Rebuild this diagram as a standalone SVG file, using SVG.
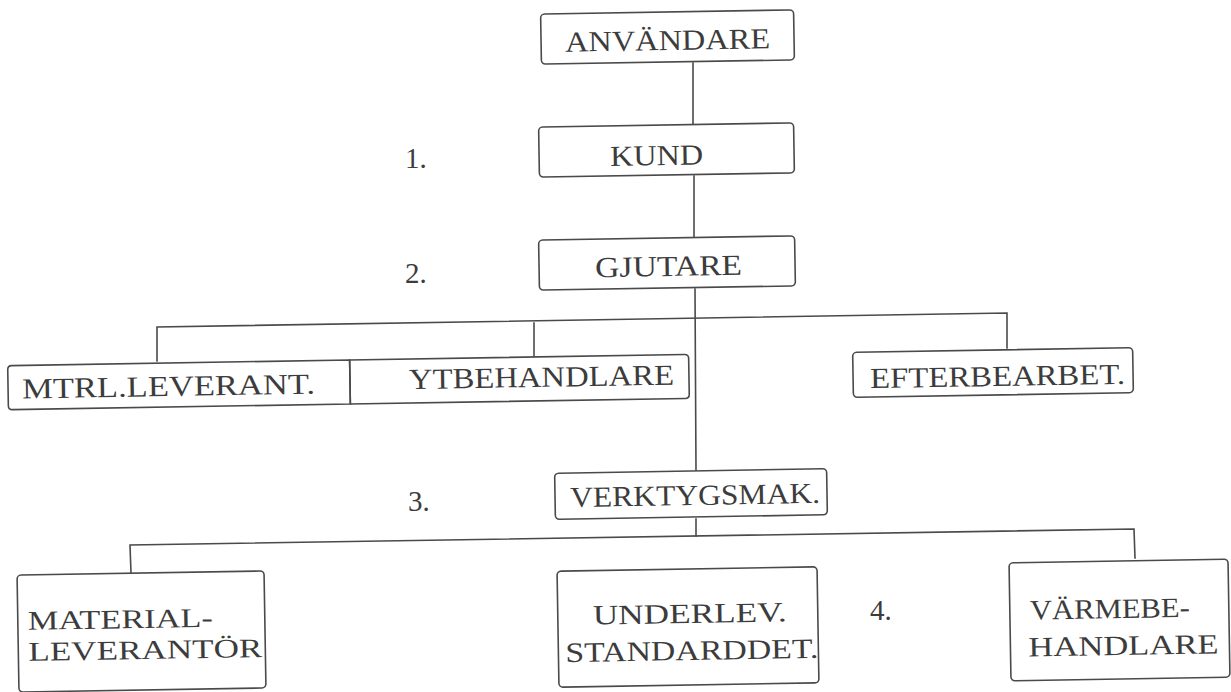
<svg xmlns="http://www.w3.org/2000/svg" width="1231" height="692" viewBox="0 0 1231 692">
  <style>
    .box { fill: none; stroke: #4a4a4a; stroke-width: 1.6; }
    .wire { fill: none; stroke: #4a4a4a; stroke-width: 1.6; stroke-linecap: square; }
    .lbl { font-family: "Liberation Serif", "DejaVu Serif", serif; font-size: 29px; fill: #3c3c3c; }
    .lbl2 { font-family: "Liberation Serif", "DejaVu Serif", serif; font-size: 28px; fill: #3c3c3c; }
    .lbl3 { font-family: "Liberation Serif", "DejaVu Serif", serif; font-size: 27px; fill: #3c3c3c; }
    .num { font-family: "Liberation Serif", "DejaVu Serif", serif; font-size: 29px; fill: #3c3c3c; }
  </style>
  <rect width="1231" height="692" fill="#ffffff"/>

  <!-- connectors -->
  <g id="connectors">
    <line class="wire" x1="693" y1="63" x2="693" y2="124"/>
    <line class="wire" x1="694" y1="176" x2="694" y2="237"/>
    <line class="wire" x1="695" y1="289" x2="696" y2="470"/>
    <polyline class="wire" points="157,361 157,327 1007,313 1007,348"/>
    <line class="wire" x1="534" y1="323" x2="534" y2="356"/>
    <line class="wire" x1="696" y1="519" x2="696" y2="536"/>
    <polyline class="wire" points="131,573 130,545 1134,529 1135,558"/>
  </g>

  <!-- level numbers -->
  <g id="levels">
    <text class="num" x="405" y="168">1.</text>
    <text class="num" x="405" y="283">2.</text>
    <text class="num" x="408" y="511">3.</text>
    <text class="num" x="870" y="620">4.</text>
  </g>

  <g id="anvandare" transform="rotate(-0.95 667 37)">
    <rect class="box" x="541" y="12" width="253" height="50" rx="4"/>
    <text class="lbl" x="565" y="50" textLength="205" lengthAdjust="spacingAndGlyphs">ANVÄNDARE</text>
  </g>

  <g id="kund" transform="rotate(-0.95 666 150)">
    <rect class="box" x="539" y="125" width="255" height="50" rx="4"/>
    <text class="lbl" x="610" y="165" textLength="93" lengthAdjust="spacingAndGlyphs">KUND</text>
  </g>

  <g id="gjutare" transform="rotate(-0.95 667 263)">
    <rect class="box" x="539" y="238" width="256" height="50" rx="4"/>
    <text class="lbl" x="595" y="276" textLength="147" lengthAdjust="spacingAndGlyphs">GJUTARE</text>
  </g>

  <!-- the two adjoining boxes share their middle edge -->
  <g id="mtrl-leverant" transform="rotate(-0.95 350 382)">
    <path class="box" d="M350,360 H12 Q8,360 8,364 V400 Q8,404 12,404 H350 Z"/>
    <text class="lbl" x="22" y="393" textLength="293" lengthAdjust="spacingAndGlyphs">MTRL.LEVERANT.</text>
  </g>

  <g id="ytbehandlare" transform="rotate(-0.95 350 382)">
    <path class="box" d="M350,360 H685 Q689,360 689,364 V400 Q689,404 685,404 H350 Z"/>
    <text class="lbl" x="409" y="390" textLength="265" lengthAdjust="spacingAndGlyphs">YTBEHANDLARE</text>
  </g>

  <g id="efterbearbet" transform="rotate(-0.95 993 372)">
    <rect class="box" x="853" y="350" width="280" height="45" rx="4"/>
    <text class="lbl" x="870" y="386" textLength="255" lengthAdjust="spacingAndGlyphs">EFTERBEARBET.</text>
  </g>

  <g id="verktygsmak" transform="rotate(-0.95 691 494)">
    <rect class="box" x="555" y="471" width="272" height="46" rx="4"/>
    <text class="lbl" x="570" y="505" textLength="250" lengthAdjust="spacingAndGlyphs">VERKTYGSMAK.</text>
  </g>

  <g id="materialleverantor" transform="rotate(-0.95 141 631)">
    <rect class="box" x="18" y="573" width="247" height="117" rx="4"/>
    <text class="lbl3" x="28" y="628" textLength="185" lengthAdjust="spacingAndGlyphs">MATERIAL-</text>
    <text class="lbl3" x="28" y="659" textLength="234" lengthAdjust="spacingAndGlyphs">LEVERANTÖR</text>
  </g>

  <g id="underlev" transform="rotate(-0.95 688 627)">
    <rect class="box" x="558" y="569" width="260" height="116" rx="4"/>
    <text class="lbl2" x="593" y="623" textLength="194" lengthAdjust="spacingAndGlyphs">UNDERLEV.</text>
    <text class="lbl2" x="565" y="660" textLength="253" lengthAdjust="spacingAndGlyphs">STANDARDDET.</text>
  </g>

  <g id="varmebehandlare" transform="rotate(-0.95 1120 620)">
    <rect class="box" x="1010" y="561" width="219" height="118" rx="4"/>
    <text class="lbl2" x="1030" y="618" textLength="160" lengthAdjust="spacingAndGlyphs">VÄRMEBE-</text>
    <text class="lbl2" x="1028" y="655" textLength="190" lengthAdjust="spacingAndGlyphs">HANDLARE</text>
  </g>
</svg>
